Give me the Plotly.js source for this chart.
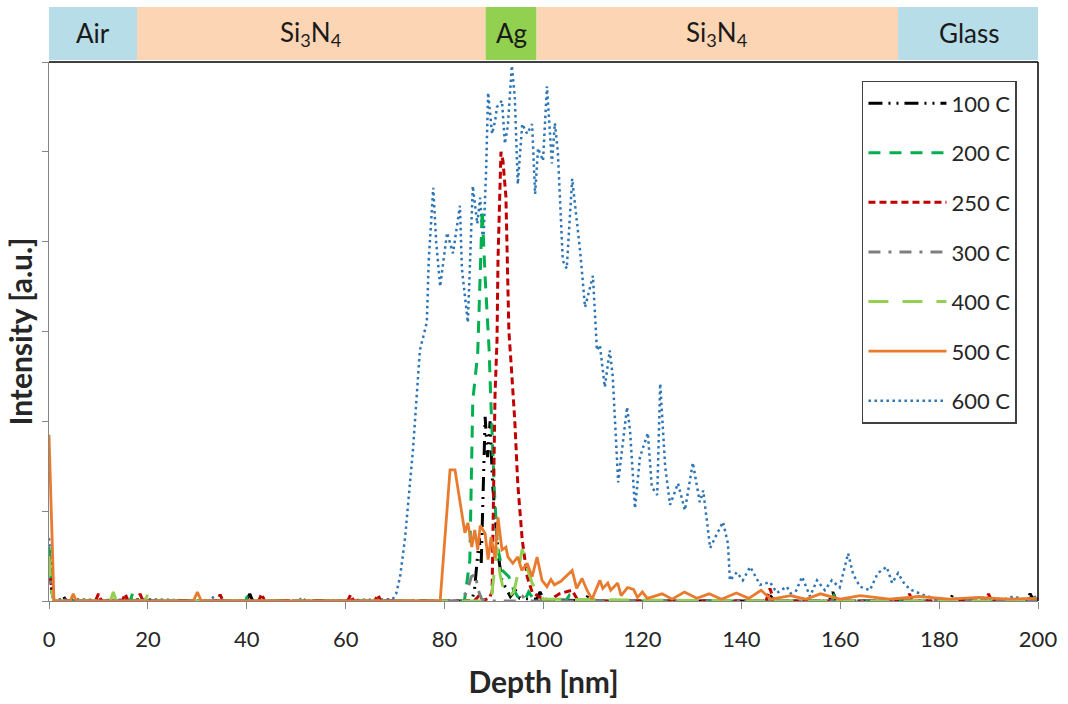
<!DOCTYPE html>
<html>
<head>
<meta charset="utf-8">
<script src="https://cdn.plot.ly/plotly-3.0.1.min.js"></script>
<style>html,body{margin:0;padding:0;background:#fff;}#chart{width:1068px;height:704px;}</style>
</head>
<body>
<div id="chart"></div>
<script>
// ---- Layer band (depth ranges in nm) ----
const layerNames = ["Air", "Si<sub>3</sub>N<sub>4</sub>", "Ag", "Si<sub>3</sub>N<sub>4</sub>", "Glass"];
const layerStart = [0, 17.8, 88.3, 98.6, 171.7];
const layerEnd   = [17.8, 88.3, 98.6, 171.7, 200.3];
const layerColors = ["#b7dde8", "#fcd5b4", "#92d050", "#fcd5b4", "#b7dde8"];

// ---- Series names ----
const seriesNames = ["100 C", "200 C", "250 C", "300 C", "400 C", "500 C", "600 C"];

// ---- 100 C ----
const depth100 = [0, 0.5, 1, 2.4, 2.9, 3.4, 39.9, 40.6, 41.2, 85.4, 86.0, 86.6, 87.0, 87.4, 87.8, 88.2, 88.7, 89.2, 89.7, 90.3, 90.9, 91.5, 92.3, 93.3, 94.3, 95.2, 98.6, 99.3, 100.0, 108.4, 109.0, 109.6, 145.2, 146.0, 146.8, 157.8, 158.5, 159.2, 182.2, 182.8, 183.4, 197.6, 198.4, 199.2, 200];
const int100   = [0.55, 0.15, 0, 0, 0.06, 0, 0, 0.08, 0, 0, 0.1, 0.5, 0.7, 0.4, 1.4, 2.05, 1.6, 2.0, 1.3, 0.9, 0.5, 0.25, 0.15, 0.05, 0.12, 0.03, 0.02, 0.1, 0.02, 0, 0.06, 0, 0, 0.05, 0, 0, 0.1, 0, 0, 0.08, 0, 0, 0.08, 0, 0];

// ---- 200 C ----
const depth200 = [0, 0.5, 1, 16.4, 17.0, 17.6, 39.7, 40.3, 40.9, 84.0, 85.1, 85.7, 86.7, 87.6, 88.2, 89.0, 89.3, 90.0, 90.7, 91.7, 93.0, 94.0, 95.0, 96.3, 97.0, 98.0, 104.5, 105.2, 105.9, 158.4, 159.0, 159.6, 200];
const int200   = [0.6, 0.15, 0, 0, 0.1, 0, 0, 0.08, 0, 0, 0.45, 2.23, 2.76, 4.35, 3.6, 2.8, 2.3, 1.3, 0.6, 0.34, 0.27, 0.12, 0.03, 0.02, 0.1, 0.02, 0, 0.06, 0, 0, 0.1, 0, 0];

// ---- 250 C ----
const depth250 = [0, 0.5, 1, 9.4, 10.0, 10.6, 14.8, 15.4, 16.0, 17.8, 18.4, 19.0, 34.0, 34.6, 35.2, 42.4, 43.0, 43.6, 60.4, 61.0, 61.6, 65.9, 66.5, 67.1, 86.0, 86.8, 87.4, 89.0, 89.6, 90.2, 90.6, 90.8, 91.4, 91.8, 92.4, 93.0, 93.5, 94.2, 94.8, 95.7, 96.7, 97.7, 99.0, 101.0, 103.2, 105.8, 107.0, 145.0, 145.8, 146.6, 173.4, 174.0, 174.6, 189.4, 190.0, 190.6, 200];
const int250   = [0.5, 0.12, 0, 0, 0.08, 0, 0, 0.08, 0, 0, 0.08, 0, 0, 0.07, 0, 0, 0.08, 0, 0, 0.07, 0, 0, 0.07, 0, 0, 0.05, 0, 0.03, 0.1, 2.3, 2.9, 3.8, 5.0, 4.9, 4.5, 3.0, 2.6, 2.0, 1.3, 0.68, 0.27, 0.1, 0.05, 0, 0.08, 0.12, 0, 0, 0.14, 0, 0, 0.08, 0, 0, 0.08, 0, 0];

// ---- 300 C ----
const depth300 = [0, 0.5, 1, 83.0, 84.5, 85.4, 86.2, 86.8, 87.5, 89.0, 95.0, 95.8, 96.6, 200];
const int300   = [0.45, 0.12, 0, 0, 0.1, 0.27, 0.3, 0.12, 0.02, 0, 0, 0.05, 0, 0];

// ---- 400 C ----
const depth400 = [0, 0.5, 1, 12.4, 13.0, 13.6, 19.4, 20.0, 20.6, 89.0, 89.5, 90.0, 90.6, 91.2, 92.0, 93.0, 94.0, 94.8, 95.7, 96.5, 97.7, 99.0, 100.0, 145.5, 146.2, 146.9, 158.0, 158.7, 159.4, 200];
const int400   = [0.5, 0.12, 0, 0, 0.1, 0, 0, 0.08, 0, 0, 0.05, 0.3, 0.6, 0.3, 0.1, 0.05, 0.1, 0.3, 0.58, 0.4, 0.2, 0.08, 0.02, 0, 0.06, 0, 0, 0.06, 0, 0];

// ---- 500 C ----
const depth500 = [0, 1, 4.3, 4.9, 5.5, 29.2, 30.0, 30.8, 79.1, 81.1, 82.1, 84.1, 84.7, 85.5, 86.1, 86.7, 87.2, 88.2, 88.8, 89.4, 90.2, 90.8, 91.6, 92.4, 92.8, 93.8, 94.8, 95.6, 96.7, 97.7, 98.7, 99.7, 100.7, 101.5, 102.2, 103.5, 105.8, 106.7, 107.8, 108.8, 109.8, 111.4, 112.0, 113.0, 113.6, 115.0, 115.7, 117.0, 118.2, 119.0, 120.0, 121.0, 124.0, 126.0, 128.5, 131.0, 133.5, 136.0, 139.0, 141.5, 144.0, 146.0, 150.0, 153.0, 156.0, 160.0, 164.0, 170.0, 176.0, 182.0, 188.0, 194.0, 200];
const int500   = [1.85, 0, 0, 0.08, 0, 0, 0.1, 0, 0, 1.46, 1.46, 0.76, 0.87, 0.6, 0.79, 0.57, 0.84, 0.75, 0.46, 0.71, 0.48, 0.93, 0.57, 0.6, 0.49, 0.42, 0.49, 0.34, 0.42, 0.27, 0.49, 0.23, 0.16, 0.24, 0.18, 0.22, 0.34, 0.14, 0.25, 0.12, 0.02, 0.23, 0.14, 0.2, 0.12, 0.2, 0.06, 0.15, 0.13, 0.04, 0.1, 0.03, 0.08, 0.02, 0.1, 0.03, 0.08, 0.02, 0.09, 0.03, 0.12, 0.02, 0.06, 0.02, 0.08, 0.02, 0.06, 0.02, 0.05, 0.02, 0.04, 0.02, 0.03];

// ---- 600 C ----
const depth600 = [0, 0.5, 1, 5, 10, 20, 32.4, 33.0, 33.6, 50.5, 51.2, 51.9, 60, 69.5, 70.2, 71.0, 72.0, 73.0, 73.6, 75.0, 76.4, 76.8, 77.7, 78.3, 79.1, 80.5, 81.7, 83.1, 83.5, 84.7, 85.7, 86.6, 87.2, 87.8, 88.4, 88.8, 89.6, 90.2, 90.6, 91.6, 92.2, 92.8, 93.6, 94.2, 94.8, 95.7, 96.7, 97.7, 98.3, 98.9, 99.9, 100.7, 101.7, 102.3, 102.9, 103.9, 104.7, 105.8, 106.8, 107.4, 108.4, 110.0, 110.8, 111.4, 112.4, 113.4, 114.0, 115.1, 116.9, 117.5, 118.5, 119.5, 121.1, 121.9, 123.0, 123.6, 124.6, 125.6, 127.2, 128.6, 130.2, 131.6, 132.3, 133.7, 135.1, 136.3, 137.3, 137.7, 139.1, 140.3, 141.8, 143.8, 145.8, 147.2, 149.2, 150.5, 152.3, 153.9, 155.3, 156.9, 158.3, 159.9, 161.6, 162.6, 164.0, 166.0, 167.6, 169.4, 170.5, 171.7, 173.1, 174.5, 176.7, 180.2, 185, 190, 192, 195, 197, 200];
const int600   = [0.7, 0.35, 0.02, 0.02, 0.01, 0.02, 0, 0.05, 0, 0, 0.04, 0, 0.01, 0.02, 0.08, 0.27, 0.7, 1.3, 1.68, 2.79, 3.1, 3.8, 4.6, 4.0, 3.5, 4.1, 3.87, 4.4, 3.7, 3.1, 4.62, 4.2, 4.49, 3.93, 4.8, 5.66, 5.2, 5.34, 5.5, 5.57, 5.09, 5.3, 5.96, 5.6, 4.64, 5.31, 5.2, 5.31, 4.53, 5.04, 4.9, 5.73, 4.87, 5.32, 5.0, 3.79, 3.7, 4.7, 4.2, 3.9, 3.27, 3.62, 2.79, 2.85, 2.38, 2.79, 2.5, 1.32, 2.16, 1.9, 1.03, 1.6, 1.87, 1.27, 1.18, 2.42, 1.5, 1.07, 1.31, 1.01, 1.54, 1.1, 1.23, 0.59, 0.75, 0.88, 0.64, 0.23, 0.32, 0.23, 0.38, 0.18, 0.21, 0.09, 0.16, 0.04, 0.27, 0.05, 0.23, 0.12, 0.23, 0.15, 0.53, 0.3, 0.16, 0.12, 0.31, 0.38, 0.2, 0.31, 0.18, 0.12, 0.07, 0.01, 0.02, 0.04, 0, 0.05, 0.02, 0.05];

// ---- Ticks ----
const xTicks = [0, 20, 40, 60, 80, 100, 120, 140, 160, 180, 200];
const yTicks = [0, 1, 2, 3, 4, 5, 6];

const FONT = "Lato, 'Open Sans', sans-serif";

// drawing order: 600 at bottom, orange on top
const seriesData = {
  "100 C": [depth100, int100, {color: "#000000", width: 3, dash: "14px,6px,2px,6px,2px,6px"}],
  "200 C": [depth200, int200, {color: "#00b050", width: 3, dash: "12px,9px"}],
  "250 C": [depth250, int250, {color: "#c00000", width: 3, dash: "7px,4px"}],
  "300 C": [depth300, int300, {color: "#7f7f7f", width: 3, dash: "12px,8px,3px,8px"}],
  "400 C": [depth400, int400, {color: "#92d050", width: 3, dash: "20px,14px"}],
  "500 C": [depth500, int500, {color: "#e97b2e", width: 2.8}],
  "600 C": [depth600, int600, {color: "#2e75b6", width: 2.5, dash: "2.5px,3.5px"}]
};
const drawOrder = ["600 C", "100 C", "200 C", "250 C", "300 C", "400 C", "500 C"];

const traces = drawOrder.map(name => {
  const s = seriesData[name];
  return {
    type: "scatter", mode: "lines", name: name,
    x: s[0], y: s[1], line: s[2],
    legendgroup: name, legendrank: seriesNames.indexOf(name) + 1,
    hoverinfo: "x+y+name"
  };
});

const shapes = [];
const annotations = [];
layerNames.forEach((n, i) => {
  shapes.push({type: "rect", xref: "x", yref: "paper", x0: layerStart[i], x1: layerEnd[i], y0: 1.0037, y1: 1.102, fillcolor: layerColors[i], line: {width: 0}, layer: "below"});
  annotations.push({xref: "x", yref: "paper", x: (layerStart[i] + layerEnd[i]) / 2, y: 1.053, text: n, showarrow: false, font: {family: FONT, size: 26, color: "#1a1a1a"}, xanchor: "center", yanchor: "middle"});
});
// plot frame: top and right borders
shapes.push({type: "line", xref: "paper", yref: "paper", x0: 0, x1: 1, y0: 1, y1: 1, line: {color: "#000", width: 1.5}});
shapes.push({type: "line", xref: "paper", yref: "paper", x0: 1, x1: 1, y0: 0, y1: 1, line: {color: "#000", width: 1.5}});

const layout = {
  width: 1068, height: 704,
  margin: {l: 49, r: 30, t: 62, b: 103},
  paper_bgcolor: "#fff", plot_bgcolor: "#fff",
  font: {family: FONT, color: "#262626"},
  showlegend: true,
  legend: {
    x: 0.822, y: 0.965, xanchor: "left", yanchor: "top",
    bgcolor: "#fff", bordercolor: "#404040", borderwidth: 1.5,
    font: {family: FONT, size: 22, color: "#262626"},
    traceorder: "grouped", tracegroupgap: 18, itemwidth: 78
  },
  xaxis: {
    range: [0, 200], tickvals: xTicks, ticktext: xTicks.map(String),
    showgrid: false, zeroline: false, showline: true, linecolor: "#868686", linewidth: 1,
    ticks: "outside", ticklen: 7, tickcolor: "#868686", ticklabelstandoff: 12,
    tickfont: {family: FONT, size: 22, color: "#262626"},
    title: {text: "<b>Depth [nm]</b>", font: {family: FONT, size: 30, color: "#262626"}, standoff: 20}
  },
  yaxis: {
    range: [0, 6], tickvals: yTicks, showticklabels: false,
    showgrid: false, zeroline: false, showline: true, linecolor: "#868686", linewidth: 1,
    ticks: "outside", ticklen: 6, tickcolor: "#868686",
    title: {text: "<b>Intensity [a.u.]</b>", font: {family: FONT, size: 30, color: "#262626"}, standoff: 0}
  },
  shapes: shapes,
  annotations: annotations
};

Plotly.newPlot("chart", traces, layout, {displayModeBar: false, staticPlot: true});
</script>
</body>
</html>
